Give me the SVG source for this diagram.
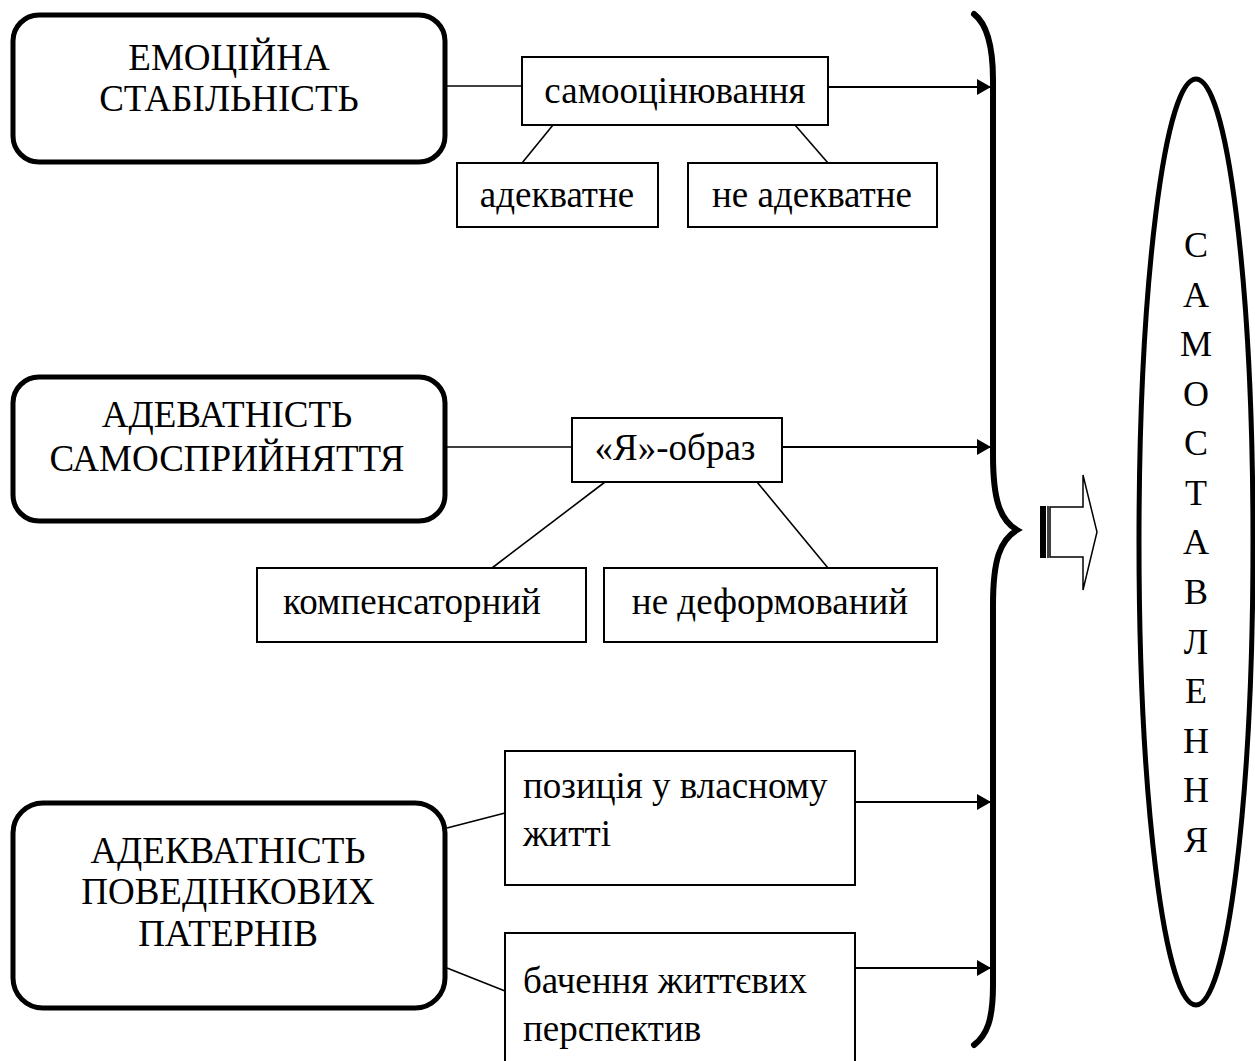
<svg xmlns="http://www.w3.org/2000/svg" width="1255" height="1061" viewBox="0 0 1255 1061">
<style>
text{font-family:"Liberation Serif","Times New Roman",serif;font-size:37px;fill:#000}
.c{text-anchor:middle}
.big{fill:#fff;stroke:#000;stroke-width:5}
.box{fill:#fff;stroke:#000;stroke-width:2}
.ln{stroke:#000;stroke-width:1.6;fill:none}
.ar{stroke:#000;stroke-width:2;fill:none;marker-end:url(#ah)}
.el{font-size:36px}
</style>
<defs>
<marker id="ah" viewBox="0 0 14 16" refX="14" refY="8" markerWidth="14" markerHeight="16" markerUnits="userSpaceOnUse" orient="auto">
<path d="M0,0 L14,8 L0,16 Z" fill="#000"/>
</marker>
</defs>
<g id="connectors">
<line class="ln" x1="446" y1="86" x2="522" y2="86"/>
<line class="ar" x1="828" y1="87" x2="991" y2="87"/>
<line class="ln" x1="553" y1="125" x2="522" y2="163"/>
<line class="ln" x1="795" y1="125" x2="828" y2="163"/>
<line class="ln" x1="446" y1="447" x2="572" y2="447"/>
<line class="ar" x1="782" y1="447" x2="991" y2="447"/>
<line class="ln" x1="605" y1="482" x2="492" y2="568"/>
<line class="ln" x1="757" y1="482" x2="828" y2="568"/>
<line class="ln" x1="447" y1="828" x2="505" y2="813"/>
<line class="ln" x1="447" y1="968" x2="505" y2="991"/>
<line class="ar" x1="855" y1="802" x2="991" y2="802"/>
<line class="ar" x1="855" y1="968" x2="991" y2="968"/>
</g>
<g id="brace">
<path d="M974,14 C987,24 993,45 993,80 L993,455 C993,500 1000,520 1017,530 C1000,540 993,560 993,605 L993,985 C993,1020 987,1035 974,1045" fill="none" stroke="#000" stroke-width="6" stroke-linecap="round"/>
</g>
<g id="big-arrow">
<rect x="1040" y="506" width="6" height="52" fill="#000"/>
<line x1="1048" y1="506" x2="1048" y2="558" stroke="#000" stroke-width="1.5"/>
<path d="M1050,507 L1083,507 L1083,475 L1097,532 L1083,590 L1083,557 L1050,557 Z" fill="#fff" stroke="#000" stroke-width="1.5"/>
</g>
<g id="node-emotional">
<rect class="big" x="13" y="15" width="432" height="147" rx="26"/>
<text class="c" x="229" y="70">ЕМОЦІЙНА</text>
<text class="c" x="229" y="111">СТАБІЛЬНІСТЬ</text>
</g>
<g id="node-selfesteem">
<rect class="box" x="522" y="57" width="306" height="68"/>
<text class="c" x="675" y="103">самооцінювання</text>
</g>
<g id="node-adequate">
<rect class="box" x="457" y="163" width="201" height="64"/>
<text class="c" x="557" y="207">адекватне</text>
</g>
<g id="node-inadequate">
<rect class="box" x="688" y="163" width="249" height="64"/>
<text class="c" x="812" y="207">не адекватне</text>
</g>
<g id="node-perception">
<rect class="big" x="13" y="377" width="432" height="144" rx="26"/>
<text class="c" x="227" y="427">АДЕВАТНІСТЬ</text>
<text class="c" x="227" y="471">САМОСПРИЙНЯТТЯ</text>
</g>
<g id="node-selfimage">
<rect class="box" x="572" y="418" width="210" height="64"/>
<text class="c" x="675" y="460">«Я»-образ</text>
</g>
<g id="node-compensatory">
<rect class="box" x="257" y="568" width="329" height="74"/>
<text class="c" x="412" y="614">компенсаторний</text>
</g>
<g id="node-undeformed">
<rect class="box" x="604" y="568" width="333" height="74"/>
<text class="c" x="770" y="614">не деформований</text>
</g>
<g id="node-behaviour">
<rect class="big" x="13" y="803" width="432" height="205" rx="30"/>
<text class="c" x="228" y="863">АДЕКВАТНІСТЬ</text>
<text class="c" x="228" y="904">ПОВЕДІНКОВИХ</text>
<text class="c" x="228" y="946">ПАТЕРНІВ</text>
</g>
<g id="node-position">
<rect class="box" x="505" y="751" width="350" height="134"/>
<text x="523" y="798">позиція у власному</text>
<text x="523" y="846">житті</text>
</g>
<g id="node-vision">
<rect class="box" x="505" y="933" width="350" height="140"/>
<text x="523" y="993">бачення життєвих</text>
<text x="523" y="1041">перспектив</text>
</g>
<g id="node-result">
<ellipse cx="1196" cy="542" rx="57" ry="463" fill="#fff" stroke="#000" stroke-width="5"/>
<text class="c el" x="1196" y="257">С</text>
<text class="c el" x="1196" y="307">А</text>
<text class="c el" x="1196" y="356">М</text>
<text class="c el" x="1196" y="406">О</text>
<text class="c el" x="1196" y="455">С</text>
<text class="c el" x="1196" y="505">Т</text>
<text class="c el" x="1196" y="554">А</text>
<text class="c el" x="1196" y="604">В</text>
<text class="c el" x="1196" y="654">Л</text>
<text class="c el" x="1196" y="703">Е</text>
<text class="c el" x="1196" y="753">Н</text>
<text class="c el" x="1196" y="802">Н</text>
<text class="c el" x="1196" y="852">Я</text>
</g>
</svg>
